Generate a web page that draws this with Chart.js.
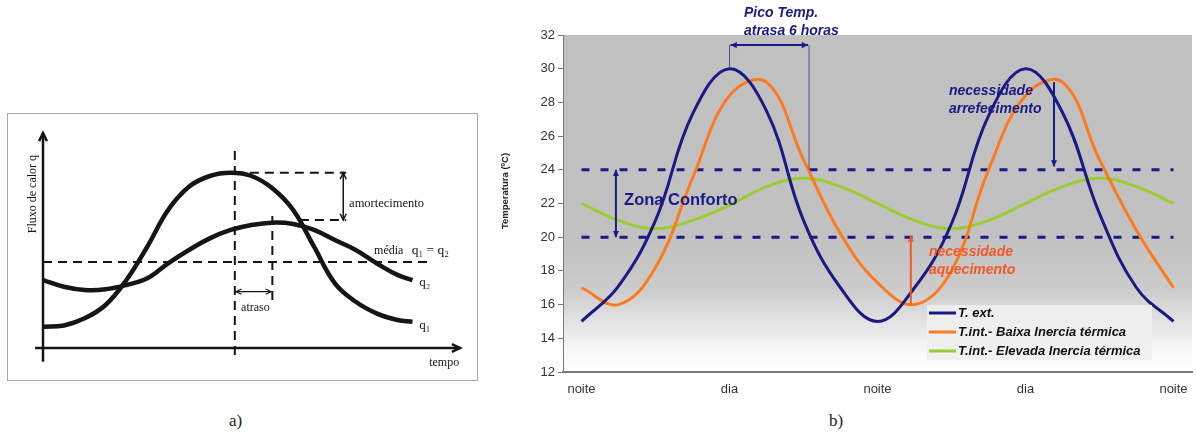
<!DOCTYPE html>
<html lang="pt">
<head>
<meta charset="utf-8">
<title>Inércia térmica</title>
<script src="https://cdn.jsdelivr.net/npm/chart.js@4.4.1/dist/chart.umd.min.js"></script>
<style>
  html, body { margin: 0; padding: 0; background: #fff; }
  body { width: 1196px; height: 432px; position: relative; overflow: hidden; }
  #moldura { position: absolute; left: 7px; top: 113px; width: 469px; height: 266px; border: 1.5px solid #a8a8a8; }
  #graficoA { position: absolute; left: 0; top: 100px; }
  #graficoB { position: absolute; left: 490px; top: 0; }
  .legenda { position: absolute; top: 411px; font-family: "Liberation Serif", "DejaVu Serif", serif; font-size: 17px; color: #222; }
</style>
</head>
<body>
<div id="moldura"></div>
<canvas id="graficoA" width="480" height="290"></canvas>
<canvas id="graficoB" width="706" height="400"></canvas>
<div class="legenda" style="left:229px">a)</div>
<div class="legenda" style="left:829px">b)</div>
<script>
// ---- painel a) esquema do fluxo de calor (unidades arbitrarias) ----
const tempoA = [0, 5, 10, 15, 20, 25, 30, 35, 40, 45, 50, 55, 60, 65, 70, 75, 80, 85, 88.6];
const q1 = [9.9, 10.5, 13.8, 20, 31.6, 47.1, 64.2, 75, 80, 81.5, 80, 74.3, 64.2, 47.1, 30.1, 21.5, 16.1, 13, 12.2];
const q2 = [31.6, 28.5, 27, 27.3, 29.3, 32.4, 39.4, 45.6, 51, 54.9, 57.2, 58.3, 57.7, 54.9, 50.2, 45.6, 39.4, 34, 31.6];

// ---- painel b) temperaturas ----
const horas = [0, 3, 6, 9, 12, 15, 18, 21, 24, 27, 30, 33, 36, 39, 42, 45, 48];
const rotulosX = ["noite", "dia", "noite", "dia", "noite"];
const tExt = [15, 17.1, 21, 27.3, 30, 27.5, 21, 17, 15, 17, 20.8, 27.2, 30, 27.4, 21.4, 17, 15];
const tBaixa = [17, 16, 18.2, 23.5, 28.4, 29.2, 24.6, 20.2, 17.3, 16, 18, 24, 28.4, 29.2, 24.6, 20.4, 17];
const tElevada = [22, 21, 20.5, 21, 21.9, 23, 23.5, 23, 22, 21, 20.5, 21, 22, 23, 23.5, 23, 22];
const limSup = [24, 24, 24, 24, 24, 24, 24, 24, 24, 24, 24, 24, 24, 24, 24, 24, 24];
const limInf = [20, 20, 20, 20, 20, 20, 20, 20, 20, 20, 20, 20, 20, 20, 20, 20, 20];

const AZUL = "#1a1a85";
const LARANJA = "#ff7a1e";
const VERDE = "#9acd32";
const VERMELHO = "#f2582a";
const SANS = '"Liberation Sans", Arial, sans-serif';
const SERIF = '"Liberation Serif", "DejaVu Serif", serif';

function ponta(ctx, x, y, ang, tam, cheia) {
    ctx.beginPath();
    ctx.moveTo(x - tam * Math.cos(ang - 0.45), y - tam * Math.sin(ang - 0.45));
    ctx.lineTo(x, y);
    ctx.lineTo(x - tam * Math.cos(ang + 0.45), y - tam * Math.sin(ang + 0.45));
    if (cheia) {
        ctx.closePath();
        ctx.fill();
    } else {
        ctx.stroke();
    }
}

function seta(ctx, x1, y1, x2, y2, cor, larg, ambas, cheia, tam) {
    const ang = Math.atan2(y2 - y1, x2 - x1);
    ctx.save();
    ctx.strokeStyle = cor;
    ctx.fillStyle = cor;
    ctx.lineWidth = larg;
    ctx.beginPath();
    ctx.moveTo(x1, y1);
    ctx.lineTo(x2, y2);
    ctx.stroke();
    ponta(ctx, x2, y2, ang, tam, cheia);
    if (ambas) ponta(ctx, x1, y1, ang + Math.PI, tam, cheia);
    ctx.restore();
}

function linha(ctx, x1, y1, x2, y2, cor, larg, tracos) {
    ctx.save();
    ctx.strokeStyle = cor;
    ctx.lineWidth = larg;
    ctx.setLineDash(tracos || []);
    ctx.beginPath();
    ctx.moveTo(x1, y1);
    ctx.lineTo(x2, y2);
    ctx.stroke();
    ctx.restore();
}

function texto(ctx, t, x, y, fonte, cor, alinh) {
    ctx.save();
    ctx.font = fonte;
    ctx.fillStyle = cor;
    ctx.textAlign = alinh || "left";
    ctx.textBaseline = "middle";
    ctx.fillText(t, x, y);
    ctx.restore();
}

// desenho dos eixos, tracejados e textos do esquema a)
const esquemaA = {
    id: "esquemaA",
    afterDatasetsDraw(chart) {
        const ctx = chart.ctx;
        const x = v => chart.scales.x.getPixelForValue(v);
        const y = v => chart.scales.y.getPixelForValue(v);
        const preto = "#151515";
        const tr = [9, 6];

        // eixos com setas
        seta(ctx, x(0), y(-6.4), x(0), y(100), preto, 2.5, false, false, 9);
        seta(ctx, x(-1.9), y(0), x(100), y(0), preto, 2.5, false, false, 9);

        // tracejados
        linha(ctx, x(0), y(40), x(92.8), y(40), preto, 2, tr);
        linha(ctx, x(46), y(-3.3), x(46), y(93.6), preto, 2, tr);
        linha(ctx, x(55), y(22.3), x(55), y(63.4), preto, 2, tr);
        linha(ctx, x(46), y(81.5), x(72.7), y(81.5), preto, 2, tr);
        linha(ctx, x(61.6), y(59.5), x(72.7), y(59.5), preto, 2, tr);

        // amortecimento e atraso
        seta(ctx, x(72), y(81.5), x(72), y(59.5), preto, 1.5, true, false, 7);
        seta(ctx, x(46.3), y(26.2), x(54.7), y(26.2), preto, 1.2, true, false, 6);

        const f = "12px " + SERIF;
        texto(ctx, "amortecimento", x(73.4), y(67), "12.5px " + SERIF, preto);
        texto(ctx, "média", x(79.4), y(45.3), f, preto);
        texto(ctx, "q\u2081 = q\u2082", x(88.4), y(45.3), "13.5px " + SERIF, preto);
        texto(ctx, "q\u2082", x(90.2), y(30.4), "13px " + SERIF, preto);
        texto(ctx, "q\u2081", x(90.2), y(10.2), "13px " + SERIF, preto);
        texto(ctx, "atraso", x(47.5), y(18.9), f, preto);
        texto(ctx, "tempo", x(92.6), y(-7.1), f, preto);

        ctx.save();
        ctx.translate(x(-2.4), y(71.6));
        ctx.rotate(-Math.PI / 2);
        texto(ctx, "Fluxo de calor q", 0, 0, f, preto, "center");
        ctx.restore();
    }
};

new Chart(document.getElementById("graficoA"), {
    type: "line",
    data: {
        datasets: [
            {
                label: "q1",
                data: tempoA.map((t, i) => ({ x: t, y: q1[i] })),
                borderColor: "#151515",
                borderWidth: 4.5,
                pointRadius: 0,
                tension: 0.4
            },
            {
                label: "q2",
                data: tempoA.map((t, i) => ({ x: t, y: q2[i] })),
                borderColor: "#151515",
                borderWidth: 4.5,
                pointRadius: 0,
                tension: 0.4
            }
        ]
    },
    options: {
        responsive: false,
        animation: false,
        events: [],
        layout: { padding: { left: 43, right: 20, top: 33, bottom: 42 } },
        scales: {
            x: { type: "linear", min: 0, max: 100, display: false },
            y: { min: 0, max: 100, display: false }
        },
        plugins: {
            legend: { display: false },
            tooltip: { enabled: false }
        }
    },
    plugins: [esquemaA]
});

// fundo em degradê, setas, textos e legenda do grafico b)
const anotacoesB = {
    id: "anotacoesB",
    beforeDraw(chart) {
        const { ctx, chartArea: a } = chart;
        const g = ctx.createLinearGradient(0, a.top, 0, a.bottom);
        g.addColorStop(0, "#c0c0c0");
        g.addColorStop(0.6, "#c1c1c1");
        g.addColorStop(0.75, "#cbcbcb");
        g.addColorStop(0.85, "#e2e2e2");
        g.addColorStop(0.93, "#f7f7f7");
        g.addColorStop(1, "#ffffff");
        ctx.save();
        ctx.fillStyle = g;
        ctx.fillRect(a.left, a.top, a.right - a.left, a.bottom - a.top);
        ctx.restore();
    },
    afterDatasetsDraw(chart) {
        const ctx = chart.ctx;
        const x = v => chart.scales.x.getPixelForValue(v);
        const y = v => chart.scales.y.getPixelForValue(v);
        const fIt = "italic bold 14px " + SANS;

        // pico atrasa 6 horas
        linha(ctx, x(4), y(31.4), x(4), y(30.1), "#55557a", 1);
        linha(ctx, x(6.15), y(31.4), x(6.15), y(24), "#55557a", 1);
        seta(ctx, x(4) + 1, y(31.4), x(6.15) - 1, y(31.4), AZUL, 2, true, true, 7);
        texto(ctx, "Pico Temp.", x(4.39), y(33.3), fIt, AZUL);
        texto(ctx, "atrasa 6 horas", x(4.39), y(32.2), fIt, AZUL);

        // zona de conforto
        seta(ctx, x(0.93), y(24), x(0.93), y(20), AZUL, 2, true, true, 7);
        texto(ctx, "Zona Conforto", x(1.15), y(22.2), "bold 16.5px " + SANS, AZUL);

        // arrefecimento
        seta(ctx, x(12.77), y(29.2), x(12.77), y(24.2), AZUL, 2, false, true, 7);
        texto(ctx, "necessidade", x(9.93), y(28.64), fIt, AZUL);
        texto(ctx, "arrefecimento", x(9.93), y(27.6), fIt, AZUL);

        // aquecimento
        seta(ctx, x(8.9), y(16), x(8.9), y(20.1), VERMELHO, 2, false, true, 7);
        texto(ctx, "necessidade", x(9.39), y(19.1), fIt, VERMELHO);
        texto(ctx, "aquecimento", x(9.39), y(18.05), fIt, VERMELHO);
    },
    afterDraw(chart) {
        const ctx = chart.ctx;
        const a = chart.chartArea;

        // titulo do eixo y
        ctx.save();
        ctx.translate(15, 191);
        ctx.rotate(-Math.PI / 2);
        texto(ctx, "Temperatura (ºC)", 0, 0, "bold 9.5px " + SANS, "#222", "center");
        ctx.restore();

        // legenda (so as 3 series)
        const bx = a.right - 265, by = a.bottom - 67;
        ctx.save();
        ctx.fillStyle = "rgba(240,240,240,0.9)";
        ctx.fillRect(bx, by, 225, 55);
        ctx.restore();
        chart.data.datasets.slice(0, 3).forEach((d, i) => {
            const ly = by + 8 + i * 19;
            linha(ctx, bx + 2, ly, bx + 29, ly, d.borderColor, 3);
            texto(ctx, d.label, bx + 31, ly, "italic bold 13px " + SANS, "#111");
        });
    }
};

new Chart(document.getElementById("graficoB"), {
    type: "line",
    data: {
        labels: horas,
        datasets: [
            { label: "T. ext.", data: tExt, borderColor: AZUL, borderWidth: 3, pointRadius: 0, tension: 0.4 },
            { label: "T.int.- Baixa Inercia térmica", data: tBaixa, borderColor: LARANJA, borderWidth: 3, pointRadius: 0, tension: 0.4 },
            { label: "T.int.- Elevada Inercia térmica", data: tElevada, borderColor: VERDE, borderWidth: 3, pointRadius: 0, tension: 0.4 },
            { label: "lim sup", data: limSup, borderColor: AZUL, borderWidth: 3, borderDash: [8, 11], pointRadius: 0 },
            { label: "lim inf", data: limInf, borderColor: AZUL, borderWidth: 3, borderDash: [8, 11], pointRadius: 0 }
        ]
    },
    options: {
        responsive: false,
        animation: false,
        events: [],
        layout: { padding: { left: 0, right: 4, top: 35, bottom: 0 } },
        scales: {
            x: {
                offset: true,
                afterFit: s => { s.height = 28; },
                grid: { display: false },
                border: { color: "#7a7a7a", width: 2 },
                ticks: {
                    autoSkip: false,
                    maxRotation: 0,
                    padding: 2,
                    color: "#333",
                    font: { family: SANS, size: 13 },
                    callback: (v, i) => (i % 4 === 0 ? rotulosX[i / 4] : "")
                }
            },
            y: {
                min: 12,
                max: 32,
                afterFit: s => { s.width = 73; },
                grid: { drawOnChartArea: false, tickLength: 5, color: "#777" },
                border: { color: "#777", width: 1 },
                ticks: { stepSize: 2, color: "#333", font: { family: SANS, size: 13 } }
            }
        },
        plugins: {
            legend: { display: false },
            tooltip: { enabled: false }
        }
    },
    plugins: [anotacoesB]
});
</script>
</body>
</html>
